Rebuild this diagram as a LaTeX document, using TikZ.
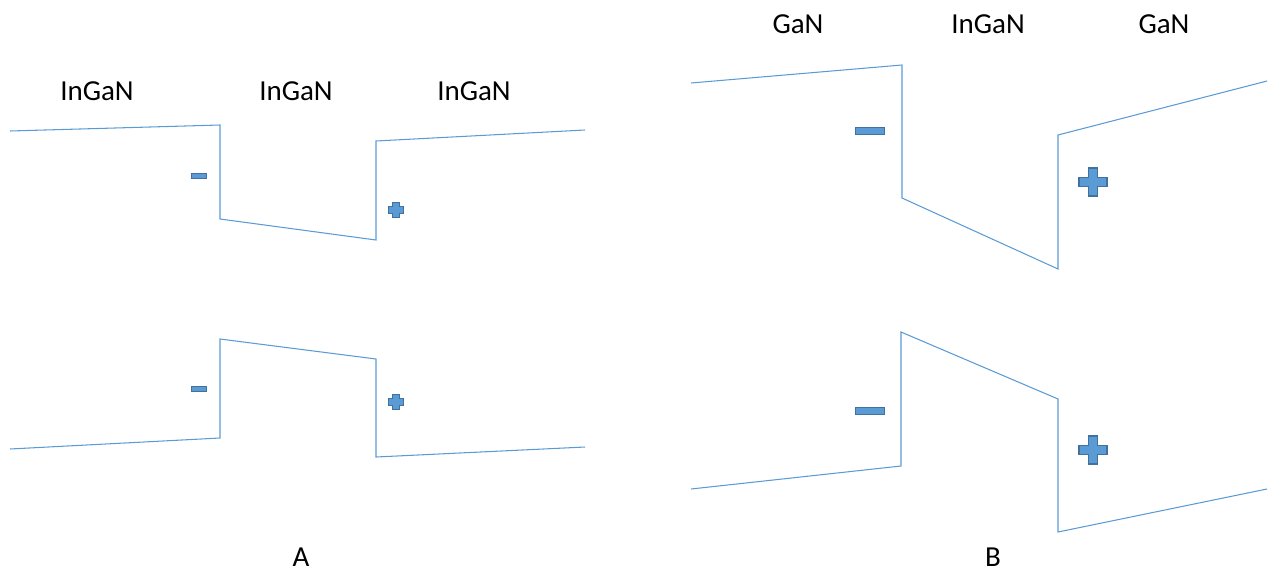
\documentclass[tikz,border=0pt]{standalone}
\usepackage{fontspec}
\setmainfont{Carlito}
\definecolor{bandline}{HTML}{5B9BD5}
\definecolor{signfill}{HTML}{5B9BD5}
\definecolor{signedge}{HTML}{41719C}
\tikzset{
  band/.style={bandline, line width=0.6pt},
  sign/.style={fill=signfill, draw=signedge, line width=0.7pt},
  layer/.style={font=\fontsize{16.5}{18}\selectfont, inner sep=0pt}
}
% minus and plus charges: centre x, centre y, half length, half thickness
\newcommand{\minuscharge}[4]{\filldraw[sign] (#1-#3,#2-#4) rectangle (#1+#3,#2+#4);}
\newcommand{\pluscharge}[4]{\filldraw[sign] (#1-#4,#2-#3) -- (#1+#4,#2-#3) -- (#1+#4,#2-#4) -- (#1+#3,#2-#4)
  -- (#1+#3,#2+#4) -- (#1+#4,#2+#4) -- (#1+#4,#2+#3) -- (#1-#4,#2+#3) -- (#1-#4,#2+#4)
  -- (#1-#3,#2+#4) -- (#1-#3,#2-#4) -- (#1-#4,#2-#4) -- cycle;}
\begin{document}
\begin{tikzpicture}[x=0.02cm, y=-0.02cm]
    \useasboundingbox (0,0) rectangle (1271,572);

    % Panel A: InGaN / InGaN / InGaN
    \node[layer] (a1) at (97,91) {InGaN};
    \node[layer] (a2) at (296,91) {InGaN};
    \node[layer] (a3) at (474,91) {InGaN};
    \draw[band] (10,131) -- (220,125) -- (220,219) -- (376,240) -- (376,141) -- (585,130);
    \draw[band] (10,449) -- (220,438) -- (220,339) -- (376,359) -- (376,457) -- (585,447);
    \minuscharge{199}{176}{7.5}{2.8}
    \pluscharge{396}{210}{7.5}{3.3}
    \minuscharge{199}{389}{7.5}{2.8}
    \pluscharge{396}{402}{7.5}{3.3}
    \node[layer] (capA) at (301,557) {A};

    % Panel B: GaN / InGaN / GaN
    \node[layer] (b1) at (798,24) {GaN};
    \node[layer] (b2) at (988,24) {InGaN};
    \node[layer] (b3) at (1164,24) {GaN};
    \draw[band] (691,83) -- (902,65) -- (902,198) -- (1058,269) -- (1058,135) -- (1267,81);
    \draw[band] (691,489) -- (901,466) -- (901,332) -- (1058,399) -- (1058,532) -- (1267,489);
    \minuscharge{870}{131}{14.5}{3.8}
    \pluscharge{1093}{182}{14}{4.8}
    \minuscharge{870}{411}{14.5}{3.8}
    \pluscharge{1093}{450}{14}{4.8}
    \node[layer] (capB) at (993,557) {B};
\end{tikzpicture}
\end{document}
